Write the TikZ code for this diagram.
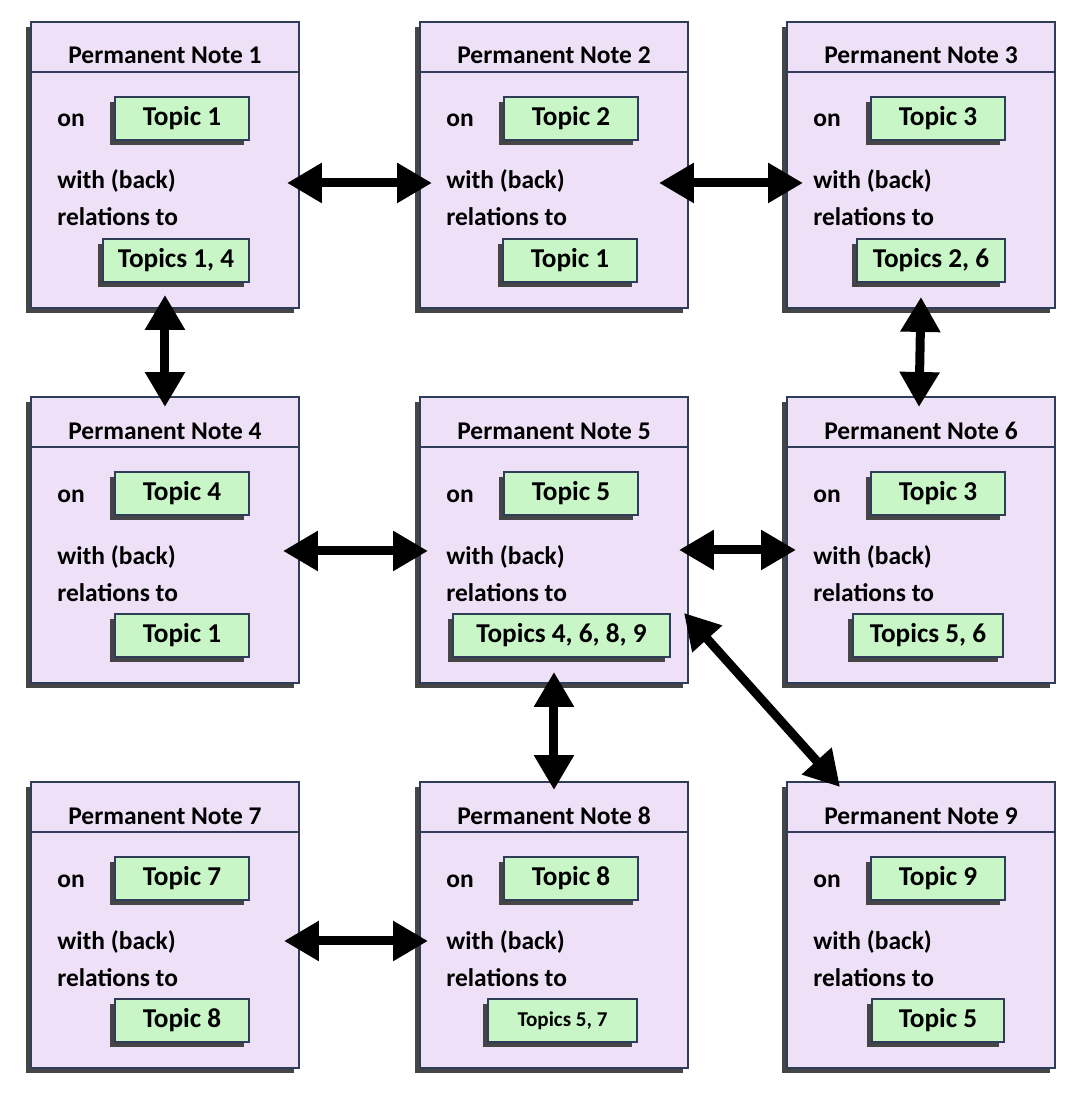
\documentclass[tikz,border=0pt]{standalone}
\usepackage{fontspec}
\setmainfont{Carlito}
\usepackage{tikz}
\usetikzlibrary{arrows.meta,positioning,calc,shadows}
\definecolor{frame}{HTML}{2F3D59}
\definecolor{lilac}{HTML}{EEE0F6}
\definecolor{mint}{HTML}{C8F6C6}
\definecolor{shade}{HTML}{454545}
\tikzset{notebox/.style={draw=frame,fill=lilac,line width=1.2pt,minimum width=5.36cm,minimum height=5.72cm,
    inner sep=0pt,outer sep=0pt,drop shadow={shadow xshift=-0.1cm,shadow yshift=-0.1cm,opacity=1,fill=shade}},
  topicbox/.style={draw=frame,fill=mint,line width=1.2pt,minimum height=0.86cm,inner sep=0pt,outer sep=0pt,
    font=\fontsize{15.5}{19}\selectfont\bfseries,drop shadow={shadow xshift=-0.1cm,shadow yshift=-0.1cm,opacity=1,fill=shade}},
  titletext/.style={font=\fontsize{14.5}{18}\selectfont\bfseries,inner sep=0pt},
  bodytext/.style={font=\fontsize{14.5}{18}\selectfont\bfseries,inner sep=0pt},
  link/.style={line width=0.18cm,>={Triangle[length=0.7cm,width=0.76cm]},<->}}
\newcommand{\smalltopic}{\fontsize{12}{15}\selectfont}
\newcommand{\permnote}[6]{%
\node[notebox,anchor=north west] (#1) at (0,0) {};
\draw[frame,line width=1.2pt] (0,50) -- (268,50);
\node[titletext,anchor=base] (#1t) at (134,42) {Permanent Note #2};
\node[bodytext,anchor=base west] (#1o) at (26,105) {on};
\node[topicbox,minimum width=2.68cm] (#1a) at (151,96.5) {#3};
\node[bodytext,anchor=base west] (#1w) at (26,167) {with (back)};
\node[bodytext,anchor=base west] (#1r) at (26,204) {relations to};
\node[topicbox,minimum width=#5,anchor=east] (#1b) at (#6,238.5) {#4};}

\begin{document}
\begin{tikzpicture}[x=0.02cm,y=-0.02cm]
\useasboundingbox (0,0) rectangle (1074,1097);
\begin{scope}[shift={(31,22)}]\permnote{n1}{1}{Topic 1}{Topics 1, 4}{2.92cm}{218}\end{scope}
\begin{scope}[shift={(420,22)}]\permnote{n2}{2}{Topic 2}{Topic 1}{2.68cm}{217}\end{scope}
\begin{scope}[shift={(787,22)}]\permnote{n3}{3}{Topic 3}{Topics 2, 6}{2.96cm}{218}\end{scope}
\begin{scope}[shift={(31,397)}]\permnote{n4}{4}{Topic 4}{Topic 1}{2.68cm}{218}\end{scope}
\begin{scope}[shift={(420,397)}]\permnote{n5}{5}{Topic 5}{Topics 4, 6, 8, 9}{4.34cm}{250}\end{scope}
\begin{scope}[shift={(787,397)}]\permnote{n6}{6}{Topic 3}{Topics 5, 6}{3cm}{216}\end{scope}
\begin{scope}[shift={(31,782)}]\permnote{n7}{7}{Topic 7}{Topic 8}{2.68cm}{218}\end{scope}
\begin{scope}[shift={(420,782)}]\permnote{n8}{8}{Topic 8}{\smalltopic Topics 5, 7}{2.98cm}{217}\end{scope}
\begin{scope}[shift={(787,782)}]\permnote{n9}{9}{Topic 9}{Topic 5}{2.64cm}{217}\end{scope}
% links
\draw[link] ($(n1.east)+(-12,18)$) -- ($(n2.west)+(12,18)$);
\draw[link] ($(n2.east)+(-29,18)$) -- ($(n3.west)+(16,18)$);
\draw[link] ($(n1.south)+(0,-13)$) -- ($(n4.north)+(0,10)$);
\draw[link] ($(n3.south)+(0,-11)$) -- ($(n6.north)+(-2,10)$);
\draw[link] ($(n4.east)+(-16,11)$) -- ($(n5.west)+(8,11)$);
\draw[link] ($(n5.east)+(-9,10)$) -- ($(n6.west)+(9,10)$);
\draw[link] ($(n5.south)+(0,-11)$) -- ($(n8.north)+(0,8)$);
\draw[link] ($(n5.south east)+(-4,-70)$) -- ($(n9.north west)+(53,5)$);
\draw[link] ($(n7.east)+(-15,16)$) -- ($(n8.west)+(8,16)$);
\end{tikzpicture}
\end{document}
